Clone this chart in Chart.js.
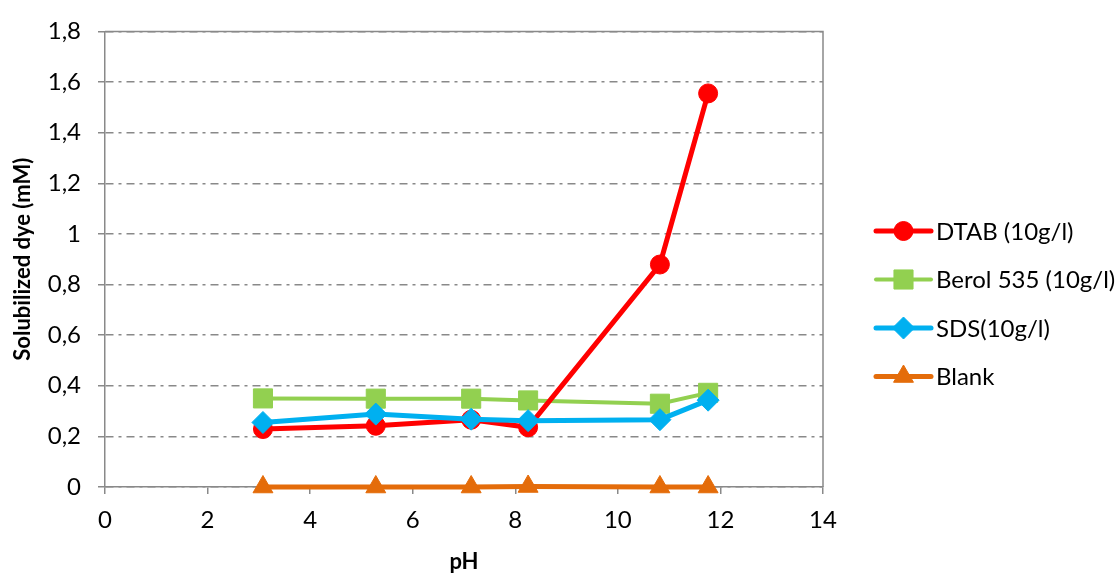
<!DOCTYPE html>
<html><head><meta charset="utf-8">
<script src="https://cdn.jsdelivr.net/npm/chart.js@4/dist/chart.umd.min.js"></script>
<style>html,body{margin:0;padding:0;background:#fff;}canvas{display:block;}</style>
</head><body>
<canvas id="c" width="1120" height="574"></canvas>
<script>
// ---- data ----
const pH = [3.08, 5.28, 7.14, 8.25, 10.82, 11.76];
const dtab = [0.229, 0.242, 0.266, 0.236, 0.879, 1.555];
const berol = [0.350, 0.349, 0.349, 0.342, 0.329, 0.372];
const sds = [0.255, 0.288, 0.268, 0.262, 0.266, 0.343];
const blank = [0, 0, 0, 0.002, 0, 0];
const seriesNames = ['DTAB (10g/l)', 'Berol 535 (10g/l)', 'SDS(10g/l)', 'Blank'];
const xTitle = 'pH';
const yTitle = 'Solubilized dye (mM)';
const xMin = 0, xMax = 14, xStep = 2;
const yMin = 0, yMax = 1.8, yStep = 0.2;

// ---- styles ----
const FONT = 'Lato, "Open Sans", sans-serif';
const GRAY = '#898989';
const toPts = ys => ys.map((y, i) => ({x: pH[i], y}));
const styles = [
  {color: '#FF0000', style: 'circle', radius: 9.5, width: 5, order: 2},
  {color: '#92D050', style: 'rect', radius: 13.5, width: 4, order: 3},
  {color: '#00B0F0', style: 'rectRot', radius: 11, width: 5, order: 1},
  {color: '#E46C0A', style: 'triangle', radius: 11.5, width: 5, order: 0}
];
const values = [dtab, berol, sds, blank];

const datasets = values.map((v, i) => ({
  label: seriesNames[i],
  data: toPts(v),
  borderColor: styles[i].color,
  backgroundColor: styles[i].color,
  pointBackgroundColor: styles[i].color,
  pointBorderColor: styles[i].color,
  pointBorderWidth: 1,
  pointStyle: styles[i].style,
  pointRadius: styles[i].radius,
  pointHoverRadius: styles[i].radius,
  borderWidth: styles[i].width,
  tension: 0,
  order: styles[i].order,
  clip: false
}));

const fmt = v => { const r = Math.round(v * 10) / 10; return String(r).replace('.', ','); };

const framePlugin = {
  id: 'frame',
  beforeDatasetsDraw(chart) {
    const {ctx, chartArea: a} = chart;
    ctx.save();
    ctx.strokeStyle = GRAY; ctx.lineWidth = 1.5;
    ctx.beginPath();
    ctx.moveTo(a.left, a.top); ctx.lineTo(a.right, a.top); ctx.lineTo(a.right, a.bottom);
    ctx.stroke();
    ctx.restore();
  }
};

const legendPlugin = {
  id: 'sideLegend',
  afterDraw(chart) {
    const ctx = chart.ctx;
    const x0 = 876, x1 = 931, tx = 936, y0 = 231, dy = 48.5;
    chart.data.datasets.forEach((ds, i) => {
      const y = y0 + i * dy;
      ctx.save();
      ctx.strokeStyle = ds.borderColor; ctx.lineWidth = ds.borderWidth; ctx.lineCap = 'round';
      ctx.beginPath(); ctx.moveTo(x0, y); ctx.lineTo(x1, y); ctx.stroke();
      ctx.fillStyle = ds.pointBackgroundColor; ctx.strokeStyle = ds.pointBorderColor; ctx.lineWidth = 1; ctx.lineCap = 'butt';
      Chart.helpers.drawPoint(ctx, {pointStyle: ds.pointStyle, radius: ds.pointRadius, rotation: 0, borderWidth: 1}, (x0 + x1) / 2, y);
      ctx.fillStyle = '#000';
      ctx.font = '24px ' + FONT;
      ctx.textBaseline = 'middle'; ctx.textAlign = 'left';
      ctx.fillText(ds.label, tx, y + 1);
      ctx.restore();
    });
  }
};

new Chart(document.getElementById('c'), {
  type: 'line',
  data: {datasets},
  options: {
    responsive: false,
    animation: false,
    devicePixelRatio: 1,
    layout: {padding: {left: 0, top: 26, right: 297, bottom: 0}},
    plugins: {legend: {display: false}, tooltip: {enabled: false}},
    scales: {
      x: {
        type: 'linear', min: xMin, max: xMax,
        afterFit: s => { s.height = 87; },
        ticks: {stepSize: xStep, color: '#000', font: {family: FONT, size: 24}, padding: 12, maxRotation: 0},
        grid: {display: true, drawOnChartArea: false, drawTicks: true, tickLength: 7, color: GRAY, tickColor: GRAY, lineWidth: 1.5},
        border: {display: true, color: GRAY, width: 1.5},
        title: {display: true, text: xTitle, color: '#000', font: {family: FONT, size: 22, weight: 'bold'}, padding: {top: 0, bottom: -1}}
      },
      y: {
        type: 'linear', min: yMin, max: yMax,
        afterFit: s => { s.width = 105; },
        ticks: {stepSize: yStep, color: '#000', font: {family: FONT, size: 24}, padding: 17, callback: v => fmt(v)},
        grid: {display: true, drawOnChartArea: true, drawTicks: true, tickLength: 7, color: GRAY, tickColor: GRAY, lineWidth: 1.5, tickBorderDash: []},
        border: {display: true, color: GRAY, width: 1.5, dash: [8, 5, 3, 5]},
        title: {display: true, text: yTitle, color: '#000', font: {family: FONT, size: 22, weight: 'bold'}, padding: {top: 10, bottom: 0}}
      }
    }
  },
  plugins: [framePlugin, legendPlugin]
});
</script>
</body></html>
